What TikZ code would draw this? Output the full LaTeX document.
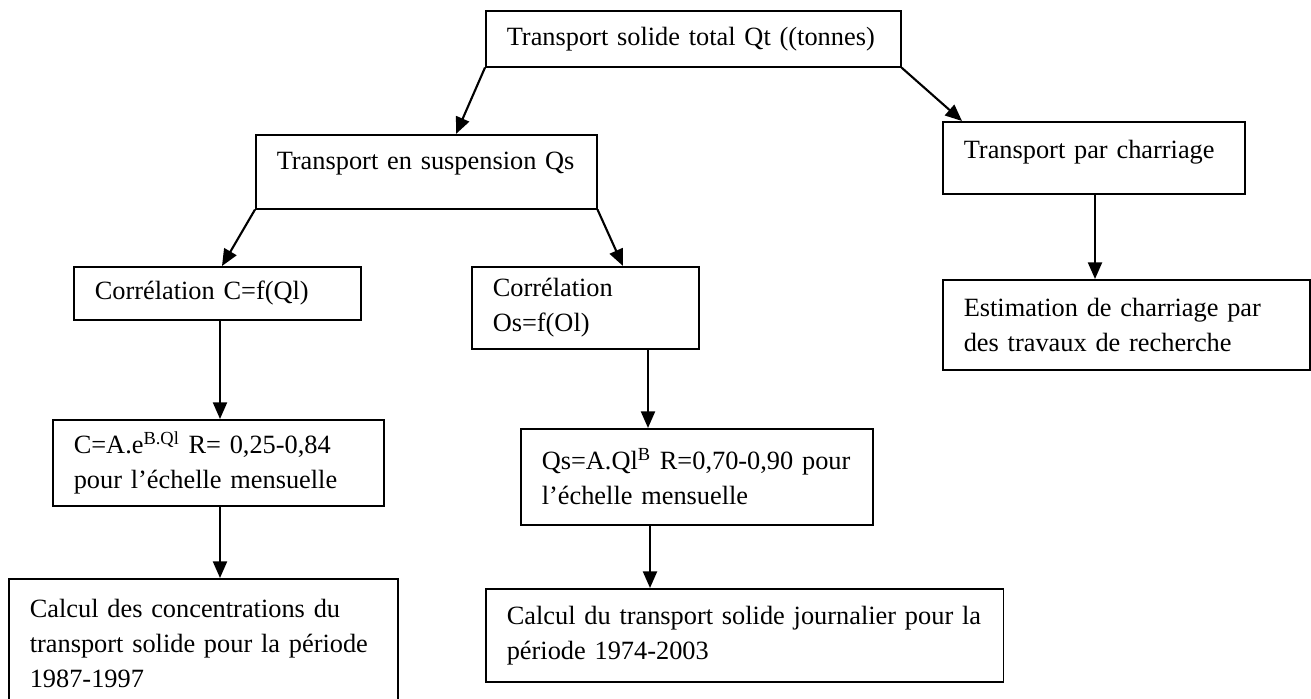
\documentclass[tikz,border=0pt]{standalone}
\usepackage{fontspec}
\setmainfont{Liberation Serif}
\usepackage{tikz}
\usetikzlibrary{arrows.meta,positioning,calc}
\newcommand{\boxfont}{\fontsize{15pt}{19.9pt}\selectfont}

\begin{document}
\begin{tikzpicture}[
    x=0.02cm, y=-0.02cm,
    box/.style={rectangle, draw, line width=0.9pt, anchor=north west,
                inner xsep=0.42cm, inner ysep=0pt, align=left, font=\boxfont},
    arrow/.style={-{Triangle[length=9.5pt,width=8pt]}, line width=1.2pt}
]
\useasboundingbox (0,0) rectangle (1311,699);
\clip (0,0) rectangle (1311,699);

% Total
\node[box, text width=7.46cm, minimum height=1.12cm] (top) at (485,10)
    {Transport solide total Qt ((tonnes)};

% Suspension branch
\node[box, text width=5.98cm, minimum height=1.48cm, text depth=0.44cm] (susp) at (255,134)
    {Transport en suspension Qs};
\node[box, text width=4.90cm, minimum height=1.06cm] (corrC) at (73,266)
    {Corrélation C=f(Ql)};
\node[box, text width=3.70cm, minimum height=1.64cm] (corrO) at (471,266)
    {Corrélation\\Os=f(Ol)};

% Regressions
\node[box, text width=5.78cm, minimum height=1.72cm] (eqC) at (52,419)
    {C=A.e\textsuperscript{B.Ql} R= 0,25-0,84\\pour l’échelle mensuelle};
\node[box, text width=6.20cm, minimum height=1.92cm] (eqQ) at (520,428)
    {Qs=A.Ql\textsuperscript{B} R=0,70-0,90 pour\\l’échelle mensuelle};

% Results
\node[box, text width=6.94cm, minimum height=2.60cm] (calcC) at (8,578)
    {Calcul des concentrations du\\transport solide pour la période\\1987-1997};
\node[box, text width=9.52cm, minimum height=1.86cm] (calcJ) at (485,588)
    {Calcul du transport solide journalier pour la\\période 1974-2003};

% Bedload branch
\node[box, text width=5.20cm, minimum height=1.44cm, text depth=0.34cm] (charr) at (942,121)
    {Transport par charriage};
\node[box, text width=6.50cm, minimum height=1.80cm] (est) at (942,279)
    {Estimation de charriage par\\des travaux de recherche};

% Connectors
\draw[arrow] (top.south west) -- ($(susp.north west)+(201,0)$);
\draw[arrow] (top.south east) -- ($(charr.north west)+(20,0)$);
\draw[arrow] (susp.south west) -- ($(corrC.north west)+(149,0)$);
\draw[arrow] (susp.south east) -- ($(corrO.north west)+(152,0)$);
\draw[arrow] ($(corrC.south west)+(147,0)$) -- ($(eqC.north west)+(168,0)$);
\draw[arrow] ($(corrO.south west)+(177,0)$) -- ($(eqQ.north west)+(128,0)$);
\draw[arrow] ($(charr.south west)+(153,0)$) -- ($(est.north west)+(153,0)$);
\draw[arrow] ($(eqC.south west)+(168,0)$) -- ($(calcC.north west)+(212,0)$);
\draw[arrow] ($(eqQ.south west)+(130,0)$) -- ($(calcJ.north west)+(165,0)$);

\end{tikzpicture}
\end{document}
